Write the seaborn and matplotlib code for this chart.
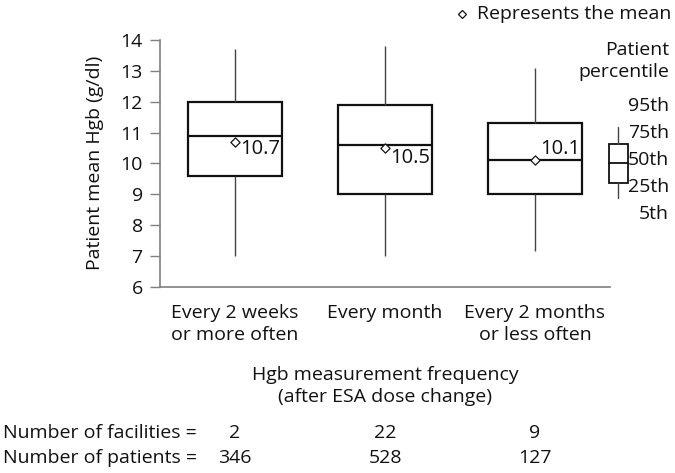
import numpy as np
import pandas as pd
import matplotlib
matplotlib.use("Agg")
import matplotlib.pyplot as plt
import matplotlib.transforms as mtransforms
import seaborn as sns

categories = ["Every 2 weeks\nor more often", "Every month", "Every 2 months\nor less often"]
p5 = [7.0, 7.0, 7.15]
p25 = [9.6, 9.0, 9.0]
p50 = [10.9, 10.6, 10.1]
p75 = [12.0, 11.9, 11.3]
p95 = [13.7, 13.8, 13.1]
means = [10.7, 10.5, 10.1]
facilities = [2, 22, 9]
patients = [346, 528, 127]
yticks = [6, 7, 8, 9, 10, 11, 12, 13, 14]

sns.set_theme(style="white")
plt.rcParams['font.family'] = ['Open Sans', 'DejaVu Sans']
FS = 14
TXT = "#111111"
GRAY = "#7f7f7f"

# each category's five percentile points; whis=(0,100) makes whiskers span p5..p95
rows = []
for i, c in enumerate(categories):
    for v in (p5[i], p25[i], p50[i], p75[i], p95[i]):
        rows.append({"cat": c, "val": v})
df = pd.DataFrame(rows)

fig = plt.figure(figsize=(6.75, 4.73), dpi=100)
ax = fig.add_axes([160/675, 1-287/473, 450/675, 247/473])

sns.boxplot(data=df, x="cat", y="val", order=categories, whis=(0, 100), width=0.63,
            color="white", linecolor="#111111", linewidth=1.6, showcaps=False,
            fliersize=0, whiskerprops=dict(color="#444444", linewidth=1.0), ax=ax)

mdf = pd.DataFrame({"cat": categories, "mean": means})
sns.scatterplot(data=mdf, x="cat", y="mean", marker="D", s=22, facecolor="white",
                edgecolor="#111111", linewidth=0.9, ax=ax, zorder=5)
offs = [(4, -5), (4, -7), (4, 8)]
for i, m in enumerate(means):
    ax.annotate(f"{m:.1f}", xy=(i, m), xytext=offs[i], textcoords="offset points",
                fontsize=FS + 0.5, color=TXT, ha="left", va="center")

ax.set_xlim(-0.5, 2.5)
ax.set_ylim(6, 14)
ax.set_yticks(yticks)
ax.set_yticklabels([str(t) for t in yticks], fontsize=FS, color=TXT)
ax.set_xticks(range(len(categories)))
ax.set_xticklabels(categories, fontsize=FS, color=TXT, linespacing=1.3)
ax.set_xticks([-0.5, 0.5, 1.5, 2.5], minor=True)
ax.tick_params(axis="x", which="major", length=0, pad=12)
ax.tick_params(axis="x", which="minor", length=7, color=GRAY, width=1, direction="out")
ax.tick_params(axis="y", length=7.5, color=GRAY, width=1, direction="out", pad=5, left=True)
ax.set_xlabel("")
ax.set_ylabel("")
for s in ["top", "right"]:
    ax.spines[s].set_visible(False)
for s in ["left", "bottom"]:
    ax.spines[s].set_color(GRAY)
    ax.spines[s].set_linewidth(1.2)

fig.text(95/675, 1-163/473, "Patient mean Hgb (g/dl)", rotation=90, ha="center", va="center",
         fontsize=FS, color=TXT)

# x title
fig.text(385/675, 1-386/473, "Hgb measurement frequency\n(after ESA dose change)",
         ha="center", va="center", fontsize=FS, color=TXT, linespacing=1.32)

# counts rows
trans = mtransforms.blended_transform_factory(ax.transData, fig.transFigure)
fig.text(3/675, 1-433/473, "Number of facilities =", ha="left", va="center", fontsize=FS, color=TXT)
fig.text(3/675, 1-458/473, "Number of patients =", ha="left", va="center", fontsize=FS, color=TXT)
for i in range(len(categories)):
    fig.text(i, 1-433/473, str(facilities[i]), transform=trans, ha="center", va="center",
             fontsize=FS, color=TXT)
    fig.text(i, 1-458/473, str(patients[i]), transform=trans, ha="center", va="center",
             fontsize=FS, color=TXT)

# legend: mean marker
fig.text(477/675, 1-14/473, "Represents the mean", ha="left", va="center", fontsize=FS, color=TXT)
fig.lines.append(matplotlib.lines.Line2D([462/675], [1-14/473], marker="D", markersize=4.5,
                 markerfacecolor="white", markeredgecolor="#111111", markeredgewidth=0.9,
                 transform=fig.transFigure, figure=fig))
# legend: percentile key
fig.text(669/675, 1-61/473, "Patient\npercentile", ha="right", va="center", fontsize=FS,
         color=TXT, linespacing=1.3)
for lab, yy in zip(["95th", "75th", "50th", "25th", "5th"], [106, 133, 160, 187, 214]):
    fig.text(669/675, 1-yy/473, lab, ha="right", va="center", fontsize=FS, color=TXT)
def fl(x0, y0, x1, y1, c="#111111", lw=1.3):
    fig.lines.append(matplotlib.lines.Line2D([x0/675, x1/675], [1-y0/473, 1-y1/473],
                     color=c, linewidth=lw, transform=fig.transFigure, figure=fig))
fl(618, 127, 618, 144, "#444444", 1.0)
fl(618, 183, 618, 198, "#444444", 1.0)
fig.patches.append(matplotlib.patches.Rectangle((609/675, 1-183/473), 19/675, 39/473,
                   fill=False, edgecolor="#111111", linewidth=1.3, transform=fig.transFigure, figure=fig))
fl(609, 163, 628, 163)

fig.savefig("out.png", dpi=100)
